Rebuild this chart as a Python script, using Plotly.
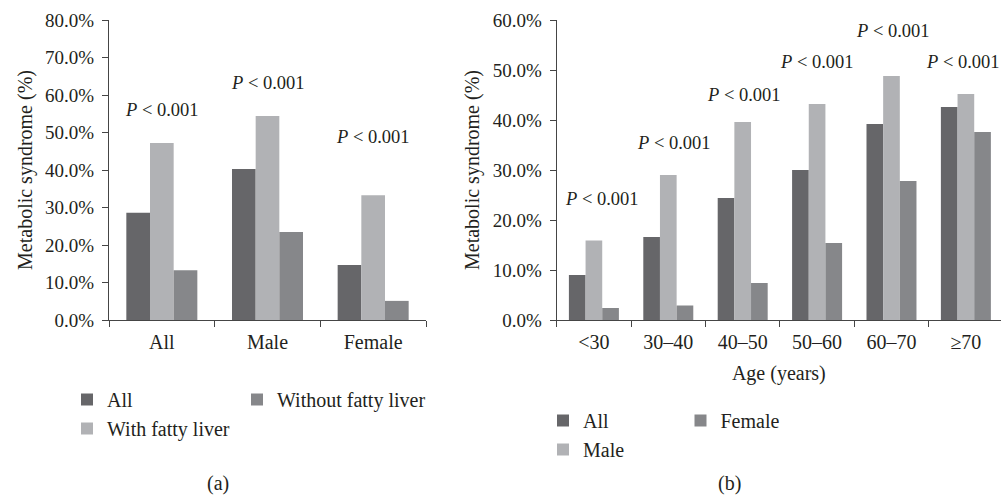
import plotly.graph_objects as go

# ---------------- data ----------------
groups_a = ["All", "Male", "Female"]
all_a = [28.6, 40.3, 14.7]
with_fl_a = [47.2, 54.4, 33.3]
without_fl_a = [13.3, 23.5, 5.1]
plabel_y_a = [56.0, 63.1, 48.9]

ages_b = ["<30", "30\u201340", "40\u201350", "50\u201360", "60\u201370", "\u226570"]
all_b = [9.0, 16.6, 24.4, 30.0, 39.2, 42.6]
male_b = [15.9, 29.0, 39.6, 43.2, 48.8, 45.2]
female_b = [2.4, 2.9, 7.4, 15.4, 27.8, 37.6]
plabel_y_b = [24.2, 35.4, 45.0, 51.5, 57.7, 51.5]
plabel_xshift_b = [8, 6, 1, 0, 2, -3]

p_text = "<i>P</i> &lt; 0.001"

# ---------------- style ----------------
FONT = "Liberation Serif"
TXT = "#231f20"
AX = "#454545"
C_DARK = "#666669"
C_LIGHT = "#b1b2b5"
C_MID = "#86878a"

W, H = 1001, 496

fig = go.Figure()

# panel (a)
fig.add_trace(go.Bar(name="All", x=groups_a, y=all_a, marker_color=C_DARK,
                     xaxis="x", yaxis="y", legend="legend"))
fig.add_trace(go.Bar(name="With fatty liver", x=groups_a, y=with_fl_a, marker_color=C_LIGHT,
                     xaxis="x", yaxis="y", legend="legend"))
fig.add_trace(go.Bar(name="Without fatty liver", x=groups_a, y=without_fl_a, marker_color=C_MID,
                     xaxis="x", yaxis="y", legend="legend2"))

# panel (b)
fig.add_trace(go.Bar(name="All", x=ages_b, y=all_b, marker_color=C_DARK,
                     xaxis="x2", yaxis="y2", legend="legend3"))
fig.add_trace(go.Bar(name="Male", x=ages_b, y=male_b, marker_color=C_LIGHT,
                     xaxis="x2", yaxis="y2", legend="legend3"))
fig.add_trace(go.Bar(name="Female", x=ages_b, y=female_b, marker_color=C_MID,
                     xaxis="x2", yaxis="y2", legend="legend4"))

fig.update_traces(marker_line_width=0, hoverinfo="skip")

y_dom = [(H - 320) / H, (H - 20) / H]

common_x = dict(showline=True, linecolor=AX, linewidth=1, ticks="outside", tickcolor=AX,
                ticklen=6, tickson="boundaries", showgrid=False, zeroline=False, automargin=False,
                ticklabelstandoff=4,
                tickfont=dict(family=FONT, size=20, color=TXT), fixedrange=True)
common_y = dict(showline=True, linecolor=AX, linewidth=1, ticks="outside", tickcolor=AX,
                ticklen=6, showgrid=False, zeroline=False, dtick=10, tickformat=".1f",
                ticksuffix="%", tickfont=dict(family=FONT, size=19, color=TXT),
                ticklabelstandoff=4, fixedrange=True, automargin=False,
                title=dict(text="Metabolic syndrome (%)", font=dict(family=FONT, size=20, color=TXT),
                           standoff=7))

fig.update_layout(
    template="none",
    width=W, height=H,
    margin=dict(l=0, r=0, t=0, b=0),
    paper_bgcolor="white", plot_bgcolor="white",
    barmode="group", bargap=0.328, bargroupgap=0,
    font=dict(family=FONT, color=TXT, size=20),
    xaxis=dict(domain=[109 / W, 426 / W], anchor="y", range=[-0.5, 2.5], **common_x),
    yaxis=dict(domain=y_dom, anchor="x", range=[0, 80], **common_y),
    xaxis2=dict(domain=[556.7 / W, 1.0], anchor="y2", range=[-0.5, 5.472],
                title=dict(text="Age (years)", font=dict(family=FONT, size=20, color=TXT), standoff=13),
                **common_x),
    yaxis2=dict(domain=y_dom, anchor="x2", range=[0, 60], **common_y),
)

leg_common = dict(orientation="v", xref="paper", yref="paper", xanchor="left", yanchor="top",
                  bgcolor="rgba(0,0,0,0)", borderwidth=0, itemwidth=30,
                  font=dict(family=FONT, size=20, color=TXT), tracegroupgap=0,
                  itemclick=False, itemdoubleclick=False)
leg_top_a = (H - 380) / H
leg_top_b = (H - 401) / H
fig.update_layout(
    legend=dict(x=67 / W, y=leg_top_a, **leg_common),
    legend2=dict(x=237 / W, y=leg_top_a, **leg_common),
    legend3=dict(x=543 / W, y=leg_top_b, **leg_common),
    legend4=dict(x=680.5 / W, y=leg_top_b, **leg_common),
)

ann = []
for g, yv in zip(groups_a, plabel_y_a):
    ann.append(dict(x=g, y=yv, xref="x", yref="y", text=p_text, showarrow=False,
                    font=dict(family=FONT, size=18.5, color=TXT), xanchor="center", yanchor="middle"))
for g, yv, xs in zip(ages_b, plabel_y_b, plabel_xshift_b):
    ann.append(dict(x=g, y=yv, xref="x2", yref="y2", text=p_text, showarrow=False, xshift=xs,
                    font=dict(family=FONT, size=18.5, color=TXT), xanchor="center", yanchor="middle"))
ann.append(dict(x=218 / W, y=(H - 483) / H, xref="paper", yref="paper", text="(a)", showarrow=False,
                font=dict(family=FONT, size=20, color=TXT), xanchor="center", yanchor="middle"))
ann.append(dict(x=729 / W, y=(H - 483) / H, xref="paper", yref="paper", text="(b)", showarrow=False,
                font=dict(family=FONT, size=20, color=TXT), xanchor="center", yanchor="middle"))
fig.update_layout(annotations=ann)

fig.write_html("out.html", config={"displayModeBar": False},
               post_script="document.body.style.margin='0';document.body.style.padding='0';")
